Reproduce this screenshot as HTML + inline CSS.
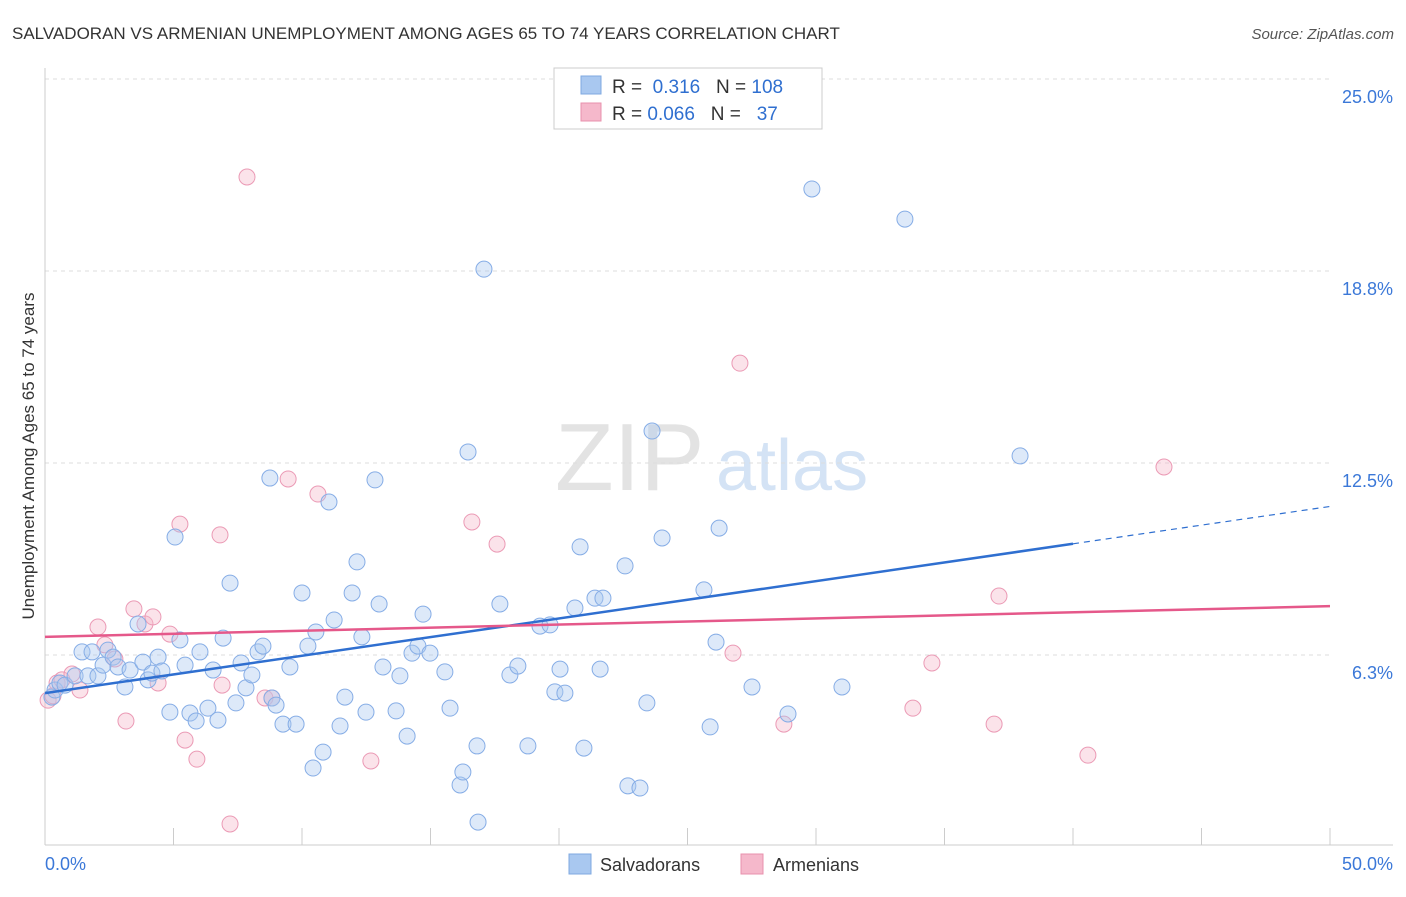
<!DOCTYPE html>
<html><head><meta charset="utf-8"><style>
body{margin:0;background:#fff;font-family:"Liberation Sans",sans-serif;}
svg text{font-family:"Liberation Sans",sans-serif;}
</style></head><body>
<svg id="chart" width="1406" height="892" viewBox="0 0 1406 892">
<text x="12" y="39" font-size="17" fill="#333">SALVADORAN VS ARMENIAN UNEMPLOYMENT AMONG AGES 65 TO 74 YEARS CORRELATION CHART</text>
<text x="1394" y="39" font-size="15" fill="#555" font-style="italic" text-anchor="end">Source: ZipAtlas.com</text>
<text x="555" y="490" font-size="96" fill="#e3e3e3" font-family="Liberation Serif">ZIP</text>
<text x="716" y="490" font-size="72" fill="#d4e3f5">atlas</text>
<g id="grid"></g>
<g id="axes"></g>
<g id="marks"></g>
<text transform="translate(34,456) rotate(-90)" font-size="17" fill="#333" text-anchor="middle">Unemployment Among Ages 65 to 74 years</text>
<g>
<rect x="554" y="68" width="268" height="61" fill="#fff" stroke="#ccc"/>
<rect x="581" y="76" width="20" height="18" fill="#a9c8f0" stroke="#7fa9e0"/>
<rect x="581" y="103" width="20" height="18" fill="#f5b8cb" stroke="#e891ad"/>
<text x="612" y="93" font-size="19" fill="#333">R = <tspan fill="#2f6fd0">&#160;0.316</tspan>&#160;&#160;&#160;N = <tspan fill="#2f6fd0">108</tspan></text>
<text x="612" y="120" font-size="19" fill="#333">R = <tspan fill="#2f6fd0">0.066</tspan>&#160;&#160;&#160;N = <tspan fill="#2f6fd0">&#160;&#160;37</tspan></text>
</g>
<g>
<rect x="569" y="854" width="22" height="20" fill="#a9c8f0" stroke="#7fa9e0"/>
<text x="600" y="871" font-size="18" fill="#333">Salvadorans</text>
<rect x="741" y="854" width="22" height="20" fill="#f5b8cb" stroke="#e891ad"/>
<text x="773" y="871" font-size="18" fill="#333">Armenians</text>
</g>
</svg>
<script>
const yTicks=[6.25,12.5,18.75,25];
const yTickLabels=["6.3%","12.5%","18.8%","25.0%"];
const xTicks=[0,5,10,15,20,25,30,35,40,45,50];
const xTickLabels=["0.0%","50.0%"];
const blueX=[0.27,0.39,0.58,0.78,1.17,1.44,1.67,1.83,2.06,2.26,2.45,2.65,2.84,3.11,3.31,3.62,3.81,4.01,4.16,4.40,4.55,4.86,5.06,5.25,5.45,5.64,5.88,6.03,6.34,6.54,6.73,6.93,7.20,7.43,7.63,7.82,8.05,8.29,8.48,8.75,8.83,8.99,9.26,9.53,9.77,10.00,10.23,10.43,10.54,10.82,11.05,11.25,11.48,11.67,11.95,12.14,12.33,12.49,12.84,13.00,13.15,13.66,13.81,14.09,14.28,14.51,14.71,14.98,15.56,15.76,16.15,16.26,16.46,16.81,16.85,17.08,17.70,18.09,18.40,18.79,19.26,19.65,19.84,20.04,20.23,20.62,20.82,20.97,21.40,21.60,21.71,22.57,22.68,23.15,23.42,23.62,24.01,25.64,25.88,26.11,26.23,27.51,28.91,29.84,31.01,33.46,37.94];
const blueY=[4.88,5.11,5.34,5.27,5.57,6.35,5.57,6.35,5.57,5.92,6.41,6.18,5.86,5.21,5.76,7.26,6.02,5.44,5.66,6.18,5.73,4.39,10.09,6.74,5.92,4.36,4.10,6.35,4.52,5.76,4.13,6.80,8.59,4.69,5.99,5.18,5.60,6.35,6.54,12.01,4.85,4.62,4.00,5.86,4.00,8.27,6.54,2.57,7.00,3.09,11.23,7.39,3.94,4.88,8.27,9.28,6.84,4.39,11.95,7.91,5.86,4.43,5.57,3.61,6.31,6.54,7.58,6.31,5.70,4.52,2.02,2.44,12.86,3.29,0.81,18.81,7.91,5.60,5.89,3.29,7.19,7.23,5.05,5.79,5.01,7.78,9.77,3.22,8.10,5.79,8.10,9.15,1.99,1.92,4.69,13.54,10.06,8.37,3.91,6.67,10.38,5.21,4.33,21.42,5.21,20.44,12.73];
const pinkX=[0.12,0.31,0.47,0.66,1.05,1.36,2.06,2.33,2.72,3.15,3.46,3.89,4.20,4.40,4.86,5.25,5.45,5.91,6.81,6.89,7.20,7.86,8.56,8.83,9.46,10.62,12.68,16.61,17.59,26.77,27.04,28.75,33.77,34.51,36.93,37.12,40.58,43.54];
const pinkY=[4.78,4.92,5.34,5.44,5.63,5.11,7.16,6.58,6.12,4.10,7.75,7.26,7.49,5.34,6.93,10.51,3.48,2.86,10.16,5.27,0.75,21.81,4.85,4.85,11.98,11.49,2.80,10.58,9.86,6.31,15.75,4.00,4.52,5.99,4.00,8.17,2.99,12.37];
const blueTrend=[5.01,0.1215];
const pinkTrend=[6.84,0.020];
const NS="http://www.w3.org/2000/svg";
const xs=v=>45+v*25.7, ys=v=>847-v*30.72;
function mk(tag,parent,attrs){const e=document.createElementNS(NS,tag);for(const k in attrs)e.setAttribute(k,attrs[k]);document.getElementById(parent).appendChild(e);return e;}
yTicks.forEach((t,i)=>{
 const l=mk('line','grid',{x1:45,x2:1330,y1:ys(t),y2:ys(t),stroke:'#ddd','stroke-dasharray':'4,4'});
 
 
 const tx=mk('text','axes',{x:1393,y:ys(t)+24,'font-size':18,fill:'#3b78d8','text-anchor':'end'});
 tx.textContent=yTickLabels[i];
 
 
});
const ax=mk('line','axes',{x1:45,x2:1393,y1:845,y2:845,stroke:'#ccc'});


const ay=mk('line','axes',{x1:45,x2:45,y1:68,y2:845,stroke:'#ccc'});


xTicks.forEach(t=>{
 const l=mk('line','axes',{x1:xs(t),x2:xs(t),y1:828,y2:845,stroke:'#ccc'});
 
 
});
const xl0=mk('text','axes',{x:45,y:870,'font-size':18,fill:'#3b78d8'});xl0.textContent=xTickLabels[0];


const xl1=mk('text','axes',{x:1393,y:870,'font-size':18,fill:'#3b78d8','text-anchor':'end'});xl1.textContent=xTickLabels[1];


function pts(X,Y,fill,stroke,name){X.forEach((x,i)=>{
 const c=mk('circle','marks',{cx:xs(x),cy:ys(Y[i]),r:8,fill:fill,'fill-opacity':0.4,stroke:stroke,'stroke-width':1});
 
 
});}
pts(pinkX,pinkY,'#f5b8cb','#eb9ab5','armenian-point');
pts(blueX,blueY,'#a9c8f0','#86ade6','salvadoran-point');
const b1=mk('line','marks',{x1:xs(0),y1:ys(blueTrend[0]),x2:xs(40),y2:ys(blueTrend[0]+blueTrend[1]*40),stroke:'#2f6fd0','stroke-width':2.5});


const b2=mk('line','marks',{x1:xs(40),y1:ys(blueTrend[0]+blueTrend[1]*40),x2:xs(50),y2:ys(blueTrend[0]+blueTrend[1]*50),stroke:'#2f6fd0','stroke-width':1.2,'stroke-dasharray':'6,5'});


const p1=mk('line','marks',{x1:xs(0),y1:ys(pinkTrend[0]),x2:xs(50),y2:ys(pinkTrend[0]+pinkTrend[1]*50),stroke:'#e5588a','stroke-width':2.5});


</script>
</body></html>
